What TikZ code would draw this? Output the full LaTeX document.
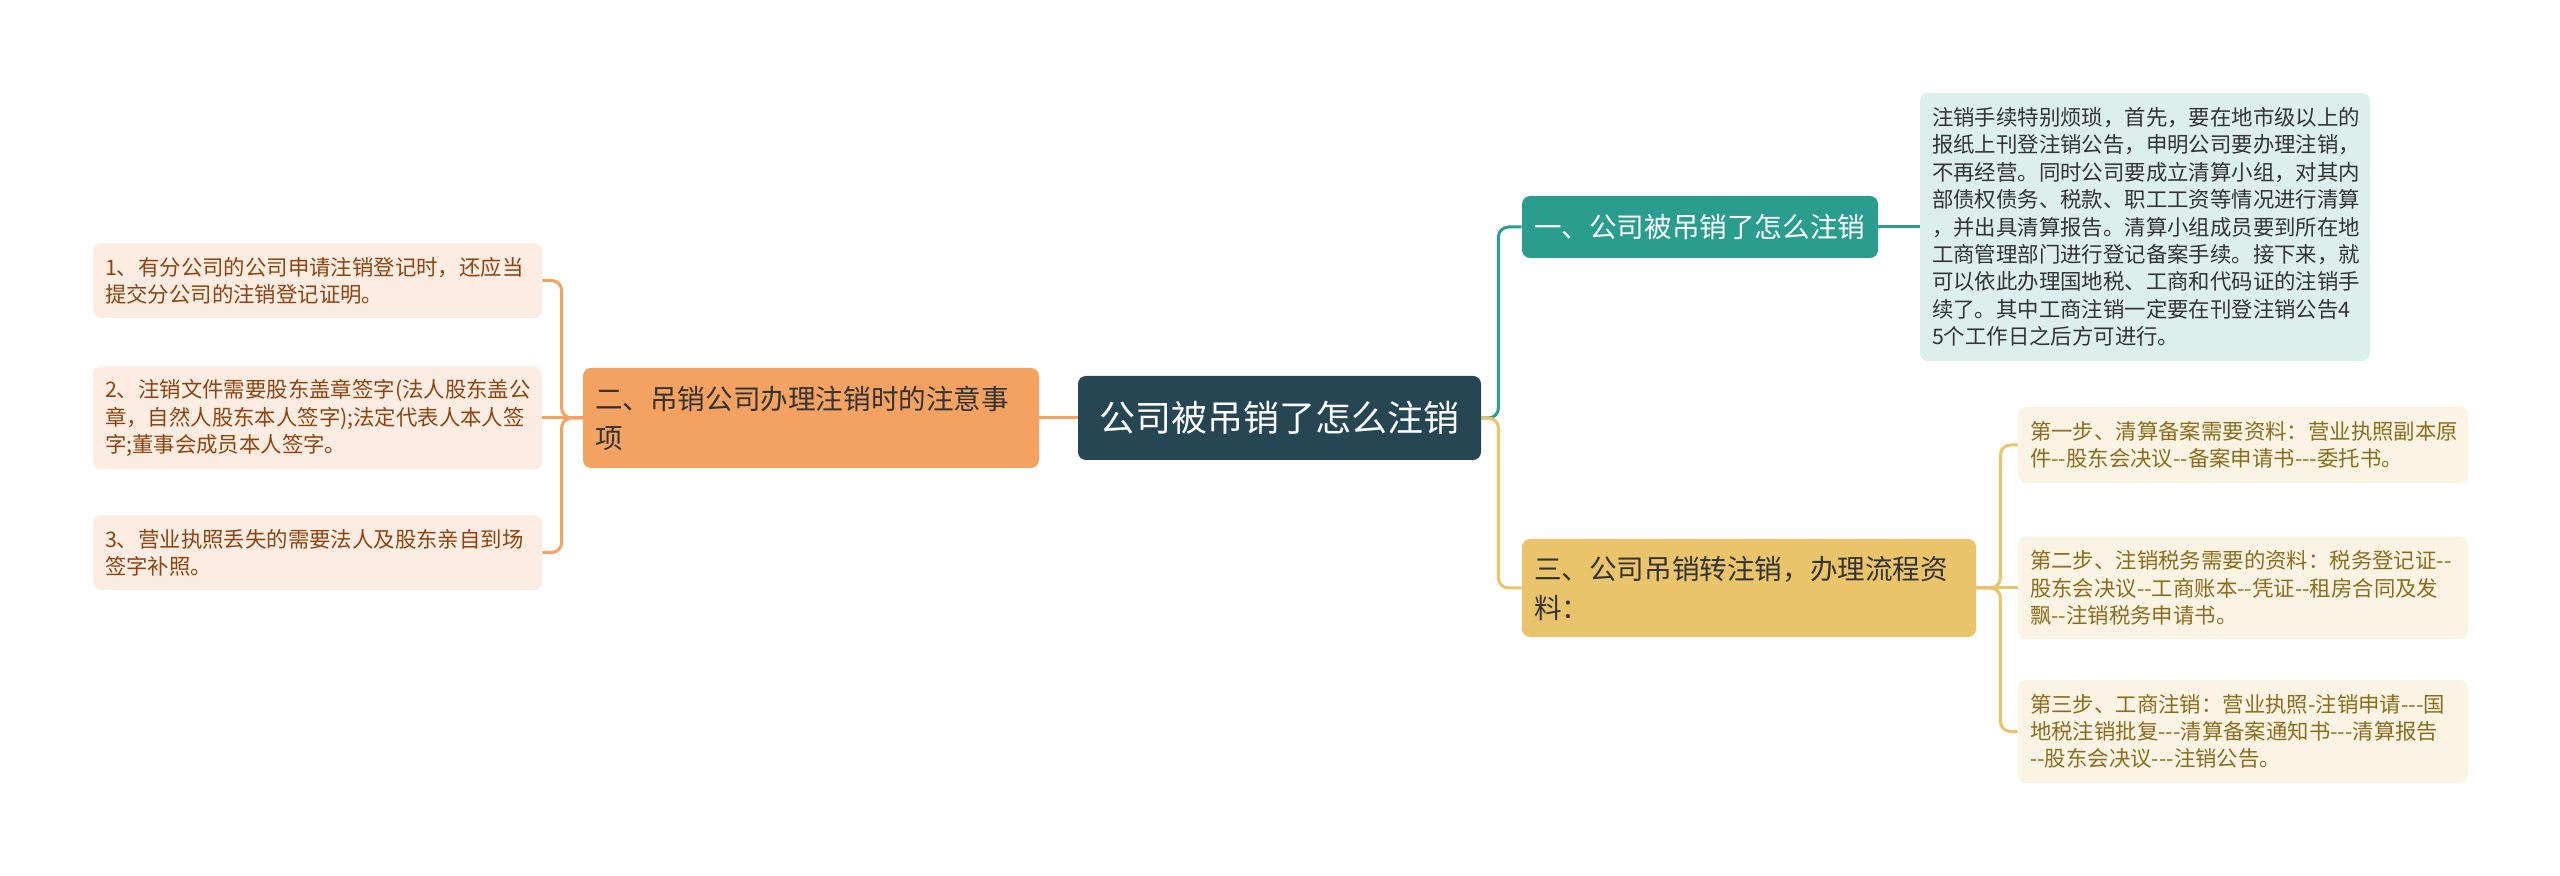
\documentclass[tikz,border=0pt]{standalone}
\usepackage{fontspec}
\setmainfont{Noto Sans CJK SC}[Ligatures=TeXOff]
\usepackage{tikz}
\usetikzlibrary{positioning,calc}
\usepackage{xcolor}
\definecolor{rootfill}{HTML}{264653}
\definecolor{tealc}{HTML}{2A9D8F}
\definecolor{orangec}{HTML}{F4A261}
\definecolor{yellowc}{HTML}{E9C46A}
\definecolor{notefill}{HTML}{DCEFEC}
\definecolor{peachfill}{HTML}{FDECE1}
\definecolor{creamfill}{HTML}{FBF3E3}
\definecolor{browntext}{HTML}{8B4513}
\definecolor{oliveText}{HTML}{8C6D1F}
\definecolor{darktext}{HTML}{333333}

\begin{document}
\begin{tikzpicture}[x=0.5pt,y=-0.5pt,
  box/.style={rounded corners=4pt,inner xsep=6pt,inner ysep=0pt,align=left},
  branch/.style={box,font=\fontsize{13.8}{19.5}\selectfont},
  leftleaf/.style={box,fill=peachfill,text=browntext,text width=212.5pt,font=\fontsize{10.7}{13.6}\selectfont},
  rightleaf/.style={box,fill=creamfill,text=oliveText,text width=213pt,font=\fontsize{10.7}{13.6}\selectfont},
  link/.style={line width=1.5pt,rounded corners=5pt}]
\useasboundingbox (0,0) rectangle (2560,876);

\node[box,fill=rootfill,text=white,align=center,minimum width=201.5pt,minimum height=42pt,font=\fontsize{18}{22}\selectfont] (root) at (1279.5,418) {公司被吊销了怎么注销};

% left side
\node[branch,fill=orangec,text=darktext,text width=216pt,minimum height=50pt] (cautions) at (811,418) {二、吊销公司办理注销时的注意事\\项};
\node[leftleaf,minimum height=37.5pt] (tipA) at (317.5,280.5) {1、有分公司的公司申请注销登记时，还应当\\提交分公司的注销登记证明。};
\node[leftleaf,minimum height=51.5pt] (tipB) at (317.5,418) {2、注销文件需要股东盖章签字(法人股东盖公\\章，自然人股东本人签字);法定代表人本人签\\字;董事会成员本人签字。};
\node[leftleaf,minimum height=37.5pt] (tipC) at (317.5,552.5) {3、营业执照丢失的需要法人及股东亲自到场\\签字补照。};

% right side
\node[branch,fill=tealc,text=white,text width=166pt,minimum height=31pt] (howto) at (1700,227) {一、公司被吊销了怎么注销};
\node[box,fill=notefill,text=darktext,text width=213pt,minimum height=134pt,font=\fontsize{10.7}{13.7}\selectfont] (note) at (2145,227) {注销手续特别烦琐，首先，要在地市级以上的\\报纸上刊登注销公告，申明公司要办理注销，\\不再经营。同时公司要成立清算小组，对其内\\部债权债务、税款、职工工资等情况进行清算\\，并出具清算报告。清算小组成员要到所在地\\工商管理部门进行登记备案手续。接下来，就\\可以依此办理国地税、工商和代码证的注销手\\续了。其中工商注销一定要在刊登注销公告4\\5个工作日之后方可进行。};
\node[branch,fill=yellowc,text=darktext,text width=215pt,minimum height=49pt] (flow) at (1749,588) {三、公司吊销转注销，办理流程资\\料：};
\node[rightleaf,minimum height=38pt] (stepA) at (2243,445) {第一步、清算备案需要资料：营业执照副本原\\件--股东会决议--备案申请书---委托书。};
\node[rightleaf,minimum height=51.5pt] (stepB) at (2243,588) {第二步、注销税务需要的资料：税务登记证--\\股东会决议--工商账本--凭证--租房合同及发\\飘--注销税务申请书。};
\node[rightleaf,minimum height=51.5pt] (stepC) at (2243,731.5) {第三步、工商注销：营业执照-注销申请---国\\地税注销批复---清算备案通知书---清算报告\\--股东会决议---注销公告。};

% connectors
\draw[link,orangec] (root.west) -- (cautions.east);
\draw[link,orangec] (cautions.west) -- ++(-21,0) |- (tipA.east);
\draw[link,orangec] (cautions.west) -- (tipB.east);
\draw[link,orangec] (cautions.west) -- ++(-21,0) |- (tipC.east);
\draw[link,tealc] (root.east) -- ++(17,0) |- (howto.west);
\draw[link,yellowc] (root.east) -- ++(17,0) |- (flow.west);
\draw[link,tealc] (howto.east) -- (note.west);
\draw[link,yellowc] (flow.east) -- ++(24,0) |- (stepA.west);
\draw[link,yellowc] (flow.east) -- (stepB.west);
\draw[link,yellowc] (flow.east) -- ++(24,0) |- (stepC.west);
\end{tikzpicture}
\end{document}
